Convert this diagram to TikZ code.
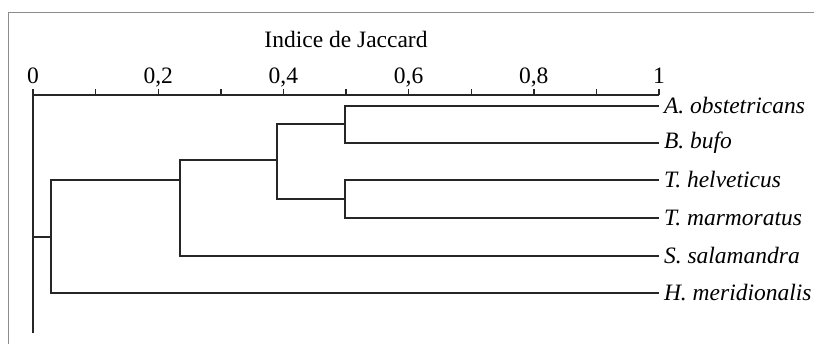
\documentclass[tikz,border=0pt]{standalone}
\usepackage{fontspec}
\setmainfont{Liberation Serif}
\usepackage{tikz}
\usetikzlibrary{positioning}

\tikzset{
    branch/.style={draw=black!85, line width=1.4pt},
    leaf/.style={anchor=west, inner sep=5pt, outer sep=0pt, font=\fontsize{23.5}{27}\selectfont\itshape},
    ticklabel/.style={anchor=base, inner sep=0pt, font=\fontsize{23.5}{27}\selectfont}
}

\begin{document}
\begin{tikzpicture}[x=1pt, y=-1pt]
            \useasboundingbox (0,0) rectangle (814,344);
            \draw[black!45, line width=0.8pt] (8,344) -- (8,12) -- (814,12);

            % axis
            \coordinate (o) at (33,95);
            \coordinate (e) at (659,95);
            \draw[branch] (o) -- (e);
            \foreach \i in {0,...,10} {
                \draw[branch] (33+62.6*\i,95) -- (33+62.6*\i,89);
            }
            \foreach \i/\t in {0/0, 2/{0,2}, 4/{0,4}, 6/{0,6}, 8/{0,8}, 10/1} {
                \node[ticklabel] (t\i) at (33+62.6*\i,84) {\t};
            }
            \node[ticklabel] (title) at (346,48) {Indice de Jaccard};

            % leaves
            \node[leaf] (aobs) at (659,106) {A. obstetricans};
            \node[leaf] (bbuf) at (659,143) {B. bufo};
            \node[leaf] (thel) at (659,180) {T. helveticus};
            \node[leaf] (tmar) at (659,218) {T. marmoratus};
            \node[leaf] (ssal) at (659,256) {S. salamandra};
            \node[leaf] (hmer) at (659,293) {H. meridionalis};

            % joins
            \coordinate (n1) at (345,124);
            \coordinate (n2) at (345,199);
            \coordinate (n3) at (277,160);
            \coordinate (n4) at (180,180);
            \coordinate (n5) at (51,237);
            \coordinate (root) at (33,237);
            \coordinate (rootend) at (33,333);

            \draw[branch] (aobs.west) -| (n1) |- (bbuf.west);
            \draw[branch] (thel.west) -| (n2) |- (tmar.west);
            \draw[branch] (n1) -| (n3) |- (n2);
            \draw[branch] (n3) -| (n4) |- (ssal.west);
            \draw[branch] (n4) -| (n5) |- (hmer.west);
            \draw[branch] (n5) -- (root);
            \draw[branch] (o) -- (rootend);
        \end{tikzpicture}
\end{document}
